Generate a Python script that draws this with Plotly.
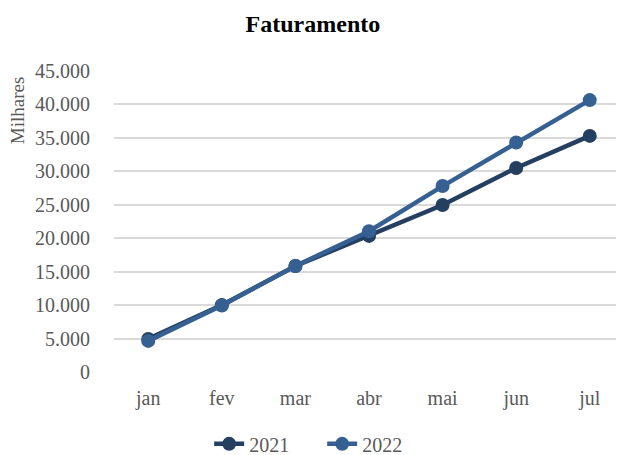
import plotly.graph_objects as go

# dados
meses = ["jan", "fev", "mar", "abr", "mai", "jun", "jul"]
fat_2021 = [4950, 10000, 15850, 20350, 24970, 30500, 35300]
fat_2022 = [4650, 9950, 15850, 21050, 27800, 34300, 40650]
y_ticks = [0, 5000, 10000, 15000, 20000, 25000, 30000, 35000, 40000, 45000]
y_labels = ["0", "5.000", "10.000", "15.000", "20.000", "25.000",
            "30.000", "35.000", "40.000", "45.000"]

FONT = "Liberation Serif"
GRAY = "#595959"

fig = go.Figure()
fig.add_trace(go.Scatter(x=meses, y=fat_2021, name="2021",
                         mode="lines+markers",
                         line=dict(color="#243F60", width=4.5),
                         marker=dict(size=14, color="#243F60")))
fig.add_trace(go.Scatter(x=meses, y=fat_2022, name="2022",
                         mode="lines+markers",
                         line=dict(color="#376092", width=4.5),
                         marker=dict(size=14, color="#376092")))

# a página tem 8px de margem no body, por isso a figura é 616x447
fig.update_layout(
    width=616, height=447,
    paper_bgcolor="white", plot_bgcolor="white",
    margin=dict(l=106, r=0, t=63, b=83),
    font=dict(family=FONT, size=20, color=GRAY),
    title=dict(text="<b>Faturamento</b>", x=0.495, xanchor="center",
               y=0.964, yanchor="middle",
               font=dict(family=FONT, size=24, color="black")),
    legend=dict(orientation="h", xref="container", x=0.51, xanchor="center",
                yref="container", y=0.025, yanchor="middle",
                entrywidth=68,
                font=dict(family=FONT, size=20, color=GRAY)),
    showlegend=True,
)

fig.update_xaxes(showgrid=False, showline=False, zeroline=False,
                 ticks="", ticklabelstandoff=12, automargin=False,
                 tickfont=dict(family=FONT, size=20, color=GRAY))
fig.update_yaxes(range=[0, 45000], tickvals=y_ticks, ticktext=y_labels,
                 showgrid=True, gridcolor="#D9D9D9", gridwidth=1.5,
                 zeroline=False, showline=False, ticks="",
                 ticklabelstandoff=23, automargin=False,
                 tickfont=dict(family=FONT, size=20, color=GRAY))

fig.add_annotation(text="Milhares", textangle=-90, xref="paper", yref="paper",
                   x=-0.19, y=0.87, xanchor="center", yanchor="middle",
                   showarrow=False,
                   font=dict(family=FONT, size=19, color=GRAY))

fig.write_html("out.html")
